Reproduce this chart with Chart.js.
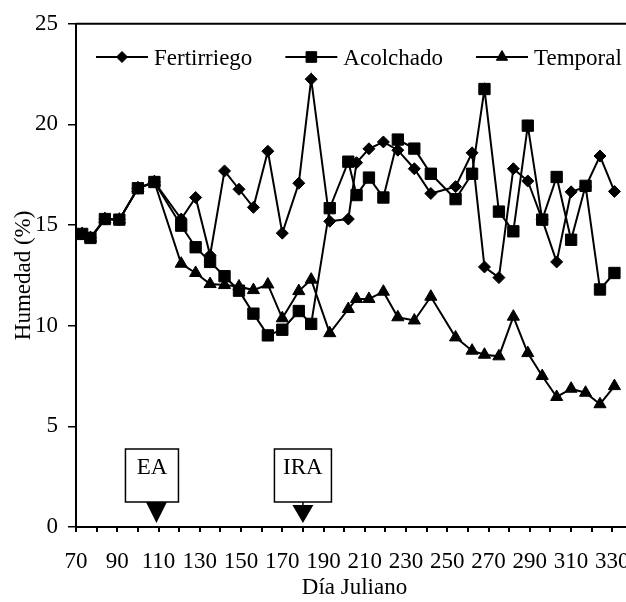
<!DOCTYPE html>
<html>
<head>
<meta charset="utf-8">
<title>Humedad</title>
<script src="https://cdn.jsdelivr.net/npm/chart.js@4.4.1/dist/chart.umd.min.js"></script>
<style>
  html, body { margin: 0; padding: 0; background: #fff; overflow: hidden; }
  #wrap { width: 649px; height: 602px; }
</style>
</head>
<body>
<div id="wrap"><canvas id="chart" width="649" height="602"></canvas></div>
<script>
// ------------------------------------------------
//  Humedad (%) vs Día Juliano
//  values
// ------------------------------------------------

const days = [73, 77, 84, 91, 100, 108, 121, 128, 135, 142, 149, 156, 163, 170, 178, 184,
  193, 202, 206, 212, 219, 226, 234, 242, 254, 262, 268, 275, 282, 289, 296, 303, 310,
  317, 324, 331];

const fertirriego = [14.56, 14.36, 15.3, 15.27, 16.83, 17.14, 15.3, 16.37, 13.5, 17.69,
  16.78, 15.88, 18.67, 14.6, 17.08, 22.25, 15.19, 15.3, 18.1, 18.79, 19.13, 18.72, 17.8,
  16.57, 16.91, 18.59, 12.92, 12.39, 17.8, 17.19, 15.27, 13.17, 16.65, 16.9, 18.43, 16.67];

const acolchado = [14.56, 14.36, 15.3, 15.27, 16.83, 17.14, 14.97, 13.9, 13.17, 12.46,
  11.74, 10.6, 9.52, 9.8, 10.73, 10.09, 15.84, 18.15, 16.49, 17.36, 16.37, 19.25, 18.8,
  17.55, 16.29, 17.55, 21.76, 15.67, 14.69, 19.94, 15.27, 17.39, 14.27, 16.95, 11.8, 12.62];

const temporal = [14.56, 14.36, 15.3, 15.27, 16.83, 17.14, 13.08, 12.62, 12.07, 12.02,
  11.95, 11.77, 12.05, 10.37, 11.72, 12.29, 9.63, 10.83, 11.33, 11.33, 11.69, 10.42, 10.26,
  11.44, 9.42, 8.76, 8.56, 8.48, 10.45, 8.64, 7.5, 6.46, 6.87, 6.67, 6.1, 7.0];

const seriesNames = ['Fertirriego', 'Acolchado', 'Temporal'];

// event marks on the time axis
const eventLabels = ['EA', 'IRA'];
const eventDays   = [109, 180];

const FONT = { family: "'Liberation Serif', 'Times New Roman', serif", size: 23 };
const FONT_CSS = `${FONT.size}px ${FONT.family}`;

function series(values) {
  return days.map((d, i) => ({ x: d, y: values[i] }));
}

function dataset(label, values, pointStyle, radius) {
  return {
    label,
    data:             series(values),
    borderColor:      '#000',
    backgroundColor:  '#000',
    borderWidth:      2,
    pointStyle,
    pointRadius:      radius,
    pointBorderWidth: 1,
    pointBackgroundColor: '#000',
    pointBorderColor: '#000',
    tension:          0,
  };
}

//  PLUGINS

// top frame line of the plot
const topFrame = {
  id: 'topFrame',
  afterDraw(chart) {
    const { ctx, chartArea } = chart;
    ctx.save();
    ctx.strokeStyle = '#000';
    ctx.lineWidth = 2;
    ctx.beginPath();
    ctx.moveTo(chartArea.left, chartArea.top);
    ctx.lineTo(chartArea.right, chartArea.top);
    ctx.stroke();
    ctx.restore();
  },
};

// legend drawn inside the plot, line + marker + name
const insideLegend = {
  id: 'insideLegend',
  afterDraw(chart) {
    const ctx = chart.ctx;
    const y = 57;
    let x = 96;
    ctx.save();
    ctx.font = FONT_CSS;
    chart.data.datasets.forEach(ds => {
      ctx.strokeStyle = '#000';
      ctx.fillStyle = '#000';
      ctx.lineWidth = 2;
      ctx.beginPath();
      ctx.moveTo(x, y);
      ctx.lineTo(x + 52, y);
      ctx.stroke();
      ctx.lineWidth = 1;
      Chart.helpers.drawPoint(ctx, {
        pointStyle: ds.pointStyle,
        radius:     ds.pointRadius - 0.5,
        borderWidth: 1,
      }, x + 26, y);
      ctx.textAlign = 'left';
      ctx.textBaseline = 'alphabetic';
      ctx.fillText(ds.label, x + 58, y + 7.5);
      x += 58 + ctx.measureText(ds.label).width + 33;
    });
    ctx.restore();
  },
};

// EA / IRA boxes with arrows pointing at the day
const eventMarks = {
  id: 'eventMarks',
  afterDraw(chart) {
    const ctx = chart.ctx;
    const xs = chart.scales.x;
    const axisY = chart.chartArea.bottom;
    ctx.save();
    ctx.font = FONT_CSS;
    eventLabels.forEach((label, i) => {
      const px = xs.getPixelForValue(eventDays[i]);
      const boxW = label.length > 2 ? 57 : 53;
      const boxX = px - boxW / 2 - (label.length > 2 ? 0 : 4.5);
      const boxTop = 449, boxBot = 502;

      ctx.fillStyle = '#fff';
      ctx.strokeStyle = '#000';
      ctx.lineWidth = 1.5;
      ctx.fillRect(boxX, boxTop, boxW, boxBot - boxTop);
      ctx.strokeRect(boxX, boxTop, boxW, boxBot - boxTop);

      ctx.fillStyle = '#000';
      ctx.textAlign = 'center';
      ctx.textBaseline = 'alphabetic';
      ctx.fillText(label, boxX + boxW / 2, boxTop + 25);

      const arrowTop = label.length > 2 ? 505 : boxBot;
      if (arrowTop > boxBot) {
        ctx.lineWidth = 1.5;
        ctx.beginPath();
        ctx.moveTo(px, boxBot);
        ctx.lineTo(px, arrowTop);
        ctx.stroke();
      }
      ctx.beginPath();
      ctx.moveTo(px - 10.5, arrowTop);
      ctx.lineTo(px + 10.5, arrowTop);
      ctx.lineTo(px, axisY - 4);
      ctx.closePath();
      ctx.fill();
    });
    ctx.restore();
  },
};

//  CHART

new Chart(document.getElementById('chart'), {
  type: 'line',
  data: {
    datasets: [
      dataset(seriesNames[0], fertirriego, 'rectRot', 6),
      dataset(seriesNames[1], acolchado,   'rect',    8),
      dataset(seriesNames[2], temporal,    'triangle', 7),
    ],
  },
  options: {
    responsive: false,
    animation:  false,
    layout: { padding: { left: 0, top: 20, right: 0, bottom: 0 } },
    plugins: {
      legend:  { display: false },
      tooltip: { enabled: false },
    },
    scales: {
      x: {
        type: 'linear',
        min: 70,
        max: 340,
        afterFit: s => { s.height = 75; },
        grid: {
          drawOnChartArea: false,
          drawTicks:  true,
          tickLength: 5,
          color:      '#000',
          lineWidth:  2,
        },
        border: { display: true, color: '#000', width: 2 },
        ticks: {
          stepSize:    10,
          autoSkip:    false,
          maxRotation: 0,
          padding:     16,
          color:       '#000',
          font:        FONT,
          callback: v => ((v - 70) % 20 === 0 ? String(v) : ''),
        },
        title: {
          display: true,
          text:    'Día Juliano',
          color:   '#000',
          font:    FONT,
          padding: { top: 0, bottom: 0 },
        },
      },
      y: {
        min: 0,
        max: 25,
        afterFit: s => { s.width = 76; },
        grid: {
          drawOnChartArea: false,
          drawTicks:  true,
          tickLength: 8,
          color:      '#000',
          lineWidth:  1.5,
        },
        border: { display: true, color: '#000', width: 2 },
        ticks: {
          stepSize: 5,
          padding:  10,
          color:    '#000',
          font:     FONT,
        },
        title: {
          display: true,
          text:    'Humedad (%)',
          color:   '#000',
          font:    FONT,
          padding: { top: 10, bottom: 0 },
        },
      },
    },
  },
  plugins: [topFrame, insideLegend, eventMarks],
});
</script>
</body>
</html>
